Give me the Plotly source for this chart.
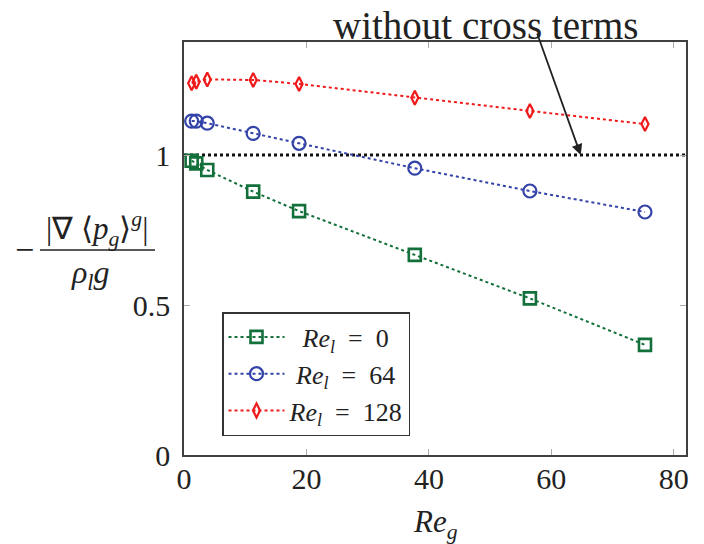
import plotly.graph_objects as go

# ---- data ----
re_g = [1.25, 2.0, 3.8, 11.3, 18.8, 37.7, 56.5, 75.3]
rel0 = [0.981, 0.972, 0.950, 0.878, 0.813, 0.667, 0.522, 0.367]
rel64 = [1.113, 1.113, 1.106, 1.072, 1.039, 0.956, 0.880, 0.810]
rel128 = [1.239, 1.244, 1.252, 1.250, 1.237, 1.191, 1.147, 1.103]
ref_x = [0, 82]
ref_y = [1, 1]
x_ticks = [0, 20, 40, 60, 80]
y_ticks = [0, 0.5, 1]
y_tick_text = ["0", "0.5", "1"]
series_names = [
    "\u00a0\u00a0<i>Re<sub>l</sub></i>\u2002=\u20020",
    "\u00a0<i>Re<sub>l</sub></i>\u2002=\u200264",
    "<i>Re<sub>l</sub></i>\u2002=\u2002128",
]

# ---- layout geometry (absolute page pixels; page body has an 8px margin) ----
OFF = 8
WIDTH, HEIGHT = 704 - 2 * OFF, 544 - OFF
PL, PR, PT, PB = 184 - OFF, 686 - OFF, 42 - OFF, 455 - OFF
PW, PH = PR - PL, PB - PT


def px(xp):
    return (xp - OFF - PL) / PW


def py(yp):
    return (PB - (yp - OFF)) / PH


SERIF = "Liberation Serif"
GREEN, BLUE, RED = "#13703a", "#3343a8", "#f01a1a"
TXT = "#222222"

fig = go.Figure()

fig.add_trace(go.Scatter(
    x=ref_x, y=ref_y, mode="lines", showlegend=False,
    line=dict(color="#111111", width=2.8, dash="dot"), hoverinfo="skip"))

fig.add_trace(go.Scatter(
    x=re_g, y=rel0, mode="lines+markers", name=series_names[0],
    line=dict(color=GREEN, width=2, dash="dot"),
    marker=dict(symbol="square-open", size=12, color=GREEN, line=dict(width=2.6, color=GREEN))))
fig.add_trace(go.Scatter(
    x=re_g, y=rel64, mode="lines+markers", name=series_names[1],
    line=dict(color=BLUE, width=2, dash="dot"),
    marker=dict(symbol="circle-open", size=13, color=BLUE, line=dict(width=2.2, color=BLUE))))
fig.add_trace(go.Scatter(
    x=re_g, y=rel128, mode="lines+markers", name=series_names[2],
    line=dict(color=RED, width=2, dash="dot"),
    marker=dict(symbol="diamond-tall-open", size=10, color=RED, line=dict(width=2.2, color=RED))))

axis_common = dict(
    showline=True, linecolor="#404040", linewidth=1.5, mirror="ticks",
    ticks="inside", ticklen=6, tickwidth=1.2, tickcolor="#aaaaaa",
    showgrid=False, zeroline=False,
    tickfont=dict(family=SERIF, size=30, color=TXT),
)

fig.update_layout(
    width=WIDTH, height=HEIGHT,
    margin=dict(l=PL, r=WIDTH - PR, t=PT, b=HEIGHT - PB, autoexpand=False),
    paper_bgcolor="white", plot_bgcolor="white",
    font=dict(family=SERIF, color=TXT),
    xaxis=dict(range=[0, 82], tickvals=x_ticks, ticklabelstandoff=-4,
               **axis_common),
    yaxis=dict(range=[0, PH / 300], tickvals=y_ticks, ticktext=y_tick_text,
               ticklabelstandoff=6, **axis_common),
    legend=dict(x=px(222), y=py(312), xanchor="left", yanchor="top",
                bgcolor="white", bordercolor="#333333", borderwidth=1.5,
                font=dict(family=SERIF, size=26, color=TXT),
                itemwidth=56, tracegroupgap=0),
    showlegend=True,
)

# x-axis title
fig.add_annotation(xref="paper", yref="paper", x=px(435), y=py(524),
                   text="<i>Re<sub>g</sub></i>", showarrow=False,
                   font=dict(family=SERIF, size=31, color=TXT),
                   xanchor="center", yanchor="middle")

# y-axis label as a built fraction
fig.add_annotation(xref="paper", yref="paper", x=px(24), y=py(250), text="\u2212",
                   showarrow=False, font=dict(family=SERIF, size=34, color=TXT),
                   xanchor="center", yanchor="middle")
fig.add_annotation(xref="paper", yref="paper", x=px(97), y=py(229),
                   text="|\u2207 \u27e8<i>p<sub>g</sub></i>\u27e9<sup><i>g</i></sup>|",
                   showarrow=False, font=dict(family=SERIF, size=31, color=TXT),
                   xanchor="center", yanchor="middle")
fig.add_shape(type="line", xref="paper", yref="paper",
              x0=px(40), x1=px(155), y0=py(250), y1=py(250),
              line=dict(color=TXT, width=1.5))
fig.add_annotation(xref="paper", yref="paper", x=px(90), y=py(274),
                   text="<i>\u03c1<sub>l</sub>g</i>",
                   showarrow=False, font=dict(family=SERIF, size=32, color=TXT),
                   xanchor="center", yanchor="middle")

# annotation text and arrow
fig.add_annotation(xref="paper", yref="paper", x=px(485), y=py(25),
                   text="without cross terms", showarrow=False,
                   font=dict(family=SERIF, size=39, color=TXT),
                   xanchor="center", yanchor="middle")
fig.add_annotation(x=64.8, y=1.0, ax=57.6, ay=1.41, axref="x", ayref="y",
                   text="", showarrow=True, arrowhead=2, arrowsize=1.2,
                   arrowwidth=1.8, arrowcolor=TXT)

fig.write_html("out.html")
